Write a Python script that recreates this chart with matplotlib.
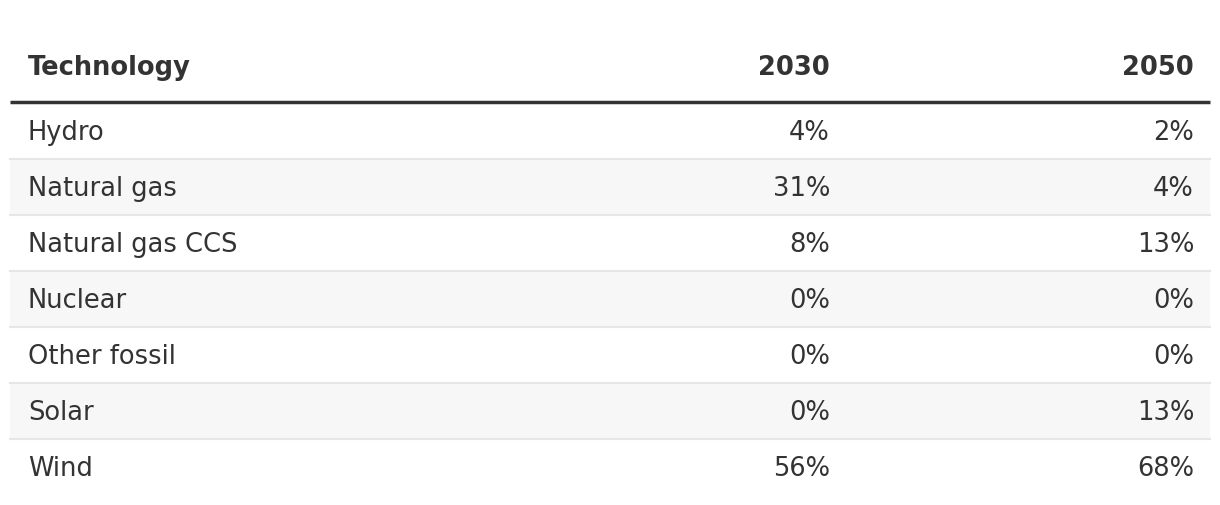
import matplotlib
matplotlib.use("Agg")
from matplotlib import pyplot as plt
from matplotlib.patches import Rectangle

# table data
columns = ["Technology", "2030", "2050"]
technologies = ["Hydro", "Natural gas", "Natural gas CCS", "Nuclear",
                "Other fossil", "Solar", "Wind"]
share_2030 = [4, 31, 8, 0, 0, 0, 56]
share_2050 = [2, 4, 13, 0, 0, 13, 68]

W, H = 1220, 506
fig = plt.figure(figsize=(W / 100, H / 100), dpi=100)
ax = fig.add_axes([0, 0, 1, 1])
ax.set_xlim(0, W)
ax.set_ylim(H, 0)
ax.axis("off")

plt.rcParams["font.family"] = ["DejaVu Sans"]
txt = "#333333"
left, right = 10, 1210
x_name, x_2030, x_2050 = 28, 830, 1194
header_y = 68
top = 104
row_h = 56
fs = 18.5

for x, label, ha in zip([x_name, x_2030, x_2050], columns, ["left", "right", "right"]):
    ax.text(x, header_y, label, ha=ha, va="center",
            fontsize=fs, fontweight="bold", color=txt)

for i, (tech, a, b) in enumerate(zip(technologies, share_2030, share_2050)):
    y0 = top + i * row_h
    if i % 2 == 1:
        ax.add_patch(Rectangle((left, y0), right - left, row_h,
                               facecolor="#f7f7f7", edgecolor="none", zorder=0))
    if i < len(technologies) - 1:
        ax.plot([left, right], [y0 + row_h, y0 + row_h], color="#e6e6e6",
                lw=1.5, zorder=1)
    yc = y0 + row_h / 2 + 1
    ax.text(x_name, yc, tech, ha="left", va="center", fontsize=fs, color=txt)
    ax.text(x_2030, yc, f"{a}%", ha="right", va="center", fontsize=fs, color=txt)
    ax.text(x_2050, yc, f"{b}%", ha="right", va="center", fontsize=fs, color=txt)

ax.plot([left, right], [top - 1, top - 1], color="#333333", lw=2.5,
        solid_capstyle="butt", zorder=2)

fig.savefig("out.png", dpi=100, facecolor="white")
